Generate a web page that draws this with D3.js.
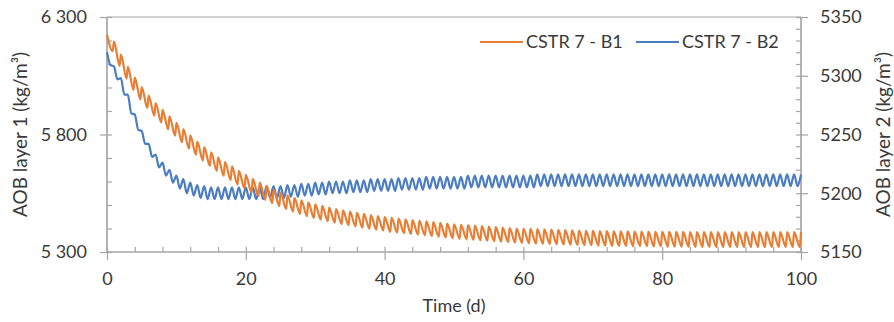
<!DOCTYPE html>
<html>
<head>
<meta charset="utf-8">
<script src="https://cdn.jsdelivr.net/npm/d3@7"></script>
<style>
    body { margin: 0; background: #fff; }
    #chart { width: 894px; height: 322px; }
    text { font-family: Lato, "Open Sans", sans-serif; fill: #3a3a3a; }
</style>
</head>
<body>
<div id="chart"></div>
<script>

// daily peak / trough values (t = 0..100 d)
const days = d3.range(0, 101);

// CSTR 7 - B1, left axis: peak at day k, trough just before the next peak
const b1Peak = [6225,6195,6140,6088,6042,6002,5966,5934,5905,5877,
    5850,5823,5796,5770,5746,5724,5703,5683,5664,5645,
    5628,5611,5595,5580,5566,5553,5541,5530,5520,5511,
    5503,5496,5489,5483,5477,5472,5467,5462,5457,5453,
    5449,5445,5442,5439,5436,5433,5430,5427,5424,5421,
    5418,5416,5414,5412,5410,5408,5406,5404,5402,5400,
    5399,5398,5397,5396,5395,5394,5393,5392,5391,5390,
    5390,5389,5389,5388,5388,5388,5387,5387,5387,5386,
    5386,5386,5386,5386,5385,5385,5385,5385,5385,5385,
    5385,5385,5385,5385,5385,5385,5385,5385,5385,5385,
    5385];
const b1Trough = [6155,6092,6038,5990,5950,5913,5880,5851,5822,5795,
    5767,5740,5714,5689,5667,5645,5625,5606,5587,5570,
    5553,5537,5522,5508,5495,5483,5472,5462,5453,5445,
    5438,5431,5425,5419,5414,5409,5404,5399,5395,5391,
    5386,5383,5380,5377,5374,5371,5368,5365,5362,5359,
    5356,5354,5352,5350,5348,5346,5344,5342,5340,5339,
    5337,5336,5335,5334,5333,5332,5331,5330,5329,5329,
    5327,5327,5326,5326,5326,5325,5325,5325,5324,5324,
    5323,5323,5323,5322,5322,5322,5322,5321,5321,5321,
    5321,5321,5321,5321,5321,5321,5321,5321,5321,5321];

// CSTR 7 - B2, right axis: peak at day k, trough half a day later
const b2Peak = [5320,5308,5298,5284,5267,5253,5242,5233,5226,5220,
    5215,5212,5209,5207,5206,5205,5205,5205,5205,5205,
    5205,5205,5205,5206,5206,5206,5207,5207,5208,5208,
    5209,5209,5210,5210,5210,5211,5211,5211,5212,5212,
    5212,5212,5213,5213,5213,5213,5214,5214,5214,5214,
    5214,5214,5215,5215,5215,5215,5215,5215,5215,5215,
    5215,5215,5216,5216,5216,5216,5216,5216,5216,5216,
    5216,5216,5216,5216,5216,5216,5216,5216,5216,5216,
    5216,5216,5216,5216,5216,5216,5216,5216,5216,5216,
    5216,5216,5216,5216,5216,5216,5216,5216,5216,5216,
    5216];
const b2Trough = [5309,5297,5284,5268,5254,5242,5231,5222,5215,5209,
    5204,5200,5198,5196,5195,5195,5195,5195,5195,5195,
    5195,5195,5195,5196,5196,5196,5197,5197,5198,5198,
    5199,5199,5200,5200,5200,5201,5201,5201,5202,5202,
    5202,5202,5203,5203,5203,5203,5204,5204,5204,5204,
    5204,5204,5205,5205,5205,5205,5205,5205,5205,5205,
    5205,5205,5206,5206,5206,5206,5206,5206,5206,5206,
    5206,5206,5206,5206,5206,5206,5206,5206,5206,5206,
    5206,5206,5206,5206,5206,5206,5206,5206,5206,5206,
    5206,5206,5206,5206,5206,5206,5206,5206,5206,5206];

const xTicks = [0, 20, 40, 60, 80, 100];
const leftTicks = [5300, 5800, 6300];
const rightTicks = [5150, 5200, 5250, 5300, 5350];
const seriesNames = ["CSTR 7 - B1", "CSTR 7 - B2"];
const seriesColors = ["#e87d34", "#4a7dc2"];


class DualAxisChart {

    constructor(parentElement) {
        this.parentElement = parentElement;
        this.initVis();
    }

    initVis() {
        let vis = this;

        vis.margin = {top: 17, right: 93, bottom: 70, left: 107};
        vis.width = 894 - vis.margin.left - vis.margin.right;
        vis.height = 322 - vis.margin.top - vis.margin.bottom;

        vis.svg = d3.select("#" + vis.parentElement).append("svg")
            .attr("width", 894)
            .attr("height", 322)
            .append("g")
            .attr("transform", `translate(${vis.margin.left}, ${vis.margin.top})`);

        vis.x = d3.scaleLinear().domain([0, 100]).range([0, vis.width]);
        vis.yLeft = d3.scaleLinear().domain([5300, 6300]).range([vis.height, 0]);
        vis.yRight = d3.scaleLinear().domain([5150, 5350]).range([vis.height, 0]);

        vis.spaced = d3.formatLocale({decimal: ".", thousands: " ", grouping: [3], currency: ["", ""]}).format(",d");

        vis.wrangleData();
    }

    wrangleData() {
        let vis = this;

        vis.b1 = [];
        days.forEach((d, i) => {
            vis.b1.push({t: d, v: b1Peak[i]});
            if (i < b1Trough.length) vis.b1.push({t: d + 0.82, v: b1Trough[i]});
        });

        vis.b2 = [];
        days.forEach((d, i) => {
            vis.b2.push({t: d, v: b2Peak[i]});
            if (i < b2Trough.length) vis.b2.push({t: d + 0.5, v: b2Trough[i]});
        });

        vis.updateVis();
    }

    updateVis() {
        let vis = this;
        const axisColor = "#a6a6a6";
        const fs = 18;

        // top border
        vis.svg.append("line")
            .attr("x1", 0).attr("x2", vis.width)
            .attr("y1", 0).attr("y2", 0)
            .attr("stroke", axisColor).attr("stroke-width", 1.2);

        // x axis: minor ticks inside, major crossing
        let xg = vis.svg.append("g").attr("transform", `translate(0, ${vis.height})`);
        xg.call(d3.axisTop(vis.x).tickValues(d3.range(0, 101, 4)).tickSize(5).tickFormat(""));
        xg.call(g => g.selectAll(".tick").filter(d => d % 20 === 0).remove());
        let xMajor = vis.svg.append("g").attr("transform", `translate(0, ${vis.height})`)
            .call(d3.axisBottom(vis.x).tickValues(xTicks).tickSize(8).tickPadding(12));
        xMajor.selectAll(".tick line").attr("y1", -5);
        [xg, xMajor].forEach(g => {
            g.selectAll("path, line").attr("stroke", axisColor).attr("stroke-width", 1.2);
            g.select(".domain").attr("d", `M0,0H${vis.width}`);
        });
        xMajor.selectAll("text").attr("font-size", fs).attr("fill", "#3a3a3a");

        // left axis
        let lMinor = vis.svg.append("g")
            .call(d3.axisRight(vis.yLeft).tickValues(d3.range(5300, 6301, 100)).tickSize(5).tickFormat(""));
        let lMajor = vis.svg.append("g")
            .call(d3.axisLeft(vis.yLeft).tickValues(leftTicks).tickSize(7).tickPadding(13).tickFormat(vis.spaced));

        // right axis
        let rMinor = vis.svg.append("g").attr("transform", `translate(${vis.width}, 0)`)
            .call(d3.axisLeft(vis.yRight).tickValues(d3.range(5150, 5351, 10)).tickSize(5).tickFormat(""));
        let rMajor = vis.svg.append("g").attr("transform", `translate(${vis.width}, 0)`)
            .call(d3.axisRight(vis.yRight).tickValues(rightTicks).tickSize(7).tickPadding(12).tickFormat(d3.format("d")));

        [lMinor, lMajor, rMinor, rMajor].forEach(g => {
            g.selectAll("path, line").attr("stroke", axisColor).attr("stroke-width", 1.2);
            g.select(".domain").attr("d", `M0,0V${vis.height}`);
            g.selectAll("text").attr("font-size", fs).attr("fill", "#3a3a3a");
        });

        // lines
        let lineLeft = d3.line().x(d => vis.x(d.t)).y(d => vis.yLeft(d.v)).curve(d3.curveMonotoneX);
        let lineRight = d3.line().x(d => vis.x(d.t)).y(d => vis.yRight(d.v)).curve(d3.curveMonotoneX);

        vis.svg.append("path").datum(vis.b2)
            .attr("d", lineRight)
            .attr("fill", "none").attr("stroke", seriesColors[1]).attr("stroke-width", 2.2);

        vis.svg.append("path").datum(vis.b1)
            .attr("d", lineLeft)
            .attr("fill", "none").attr("stroke", seriesColors[0]).attr("stroke-width", 2.2);

        // axis titles
        vis.svg.append("text")
            .text("AOB layer 1 (kg/m³)")
            .attr("font-size", 19)
            .attr("text-anchor", "middle")
            .attr("transform", `translate(${27 - vis.margin.left}, ${vis.height / 2}) rotate(-90)`);

        vis.svg.append("text")
            .text("AOB layer 2 (kg/m³)")
            .attr("font-size", 19)
            .attr("text-anchor", "middle")
            .attr("transform", `translate(${890 - vis.margin.left}, ${vis.height / 2}) rotate(-90)`);

        vis.svg.append("text")
            .text("Time (d)")
            .attr("font-size", fs)
            .attr("text-anchor", "middle")
            .attr("x", vis.width / 2)
            .attr("y", 312 - vis.margin.top);

        // legend
        let legend = vis.svg.append("g").attr("transform", `translate(${480 - vis.margin.left}, ${42 - vis.margin.top})`);
        let offsets = [0, 156];
        seriesNames.forEach((name, i) => {
            let item = legend.append("g").attr("transform", `translate(${offsets[i]}, 0)`);
            item.append("line")
                .attr("x1", 0).attr("x2", 43)
                .attr("stroke", seriesColors[i]).attr("stroke-width", 2.2);
            item.append("text")
                .text(name)
                .attr("x", 46)
                .attr("dy", "0.35em")
                .attr("font-size", fs);
        });
    }
}

new DualAxisChart("chart");
</script>
</body>
</html>
